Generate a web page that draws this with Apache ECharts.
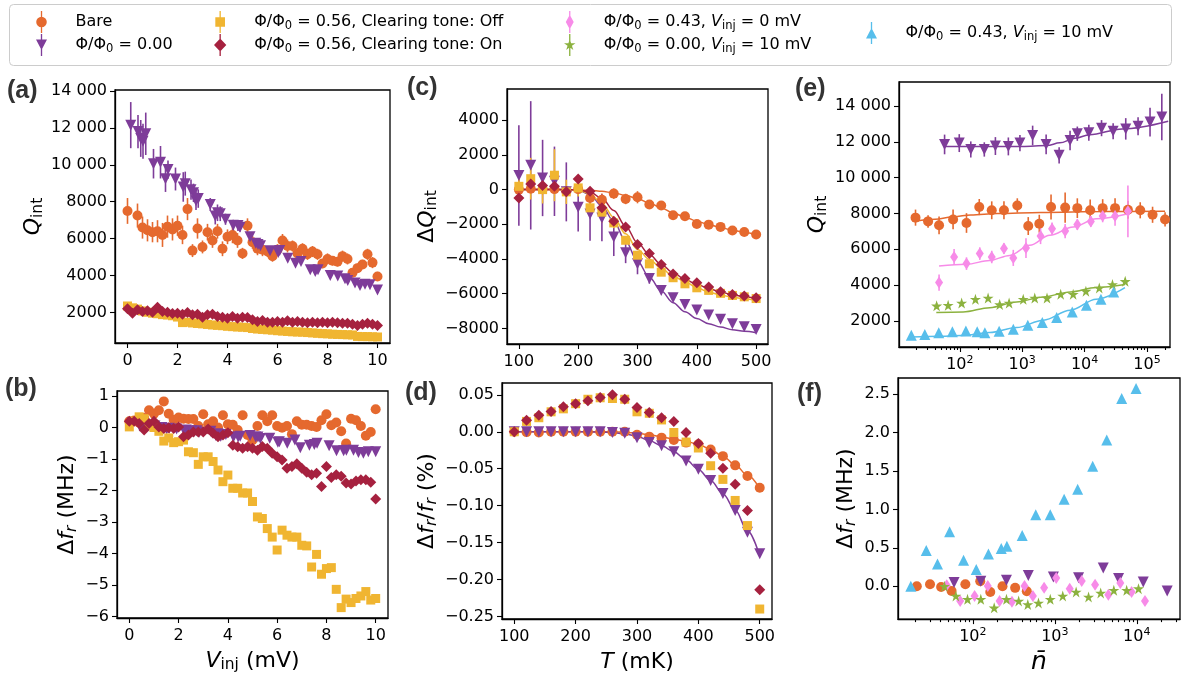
<!DOCTYPE html>
<html><head><meta charset="utf-8">
<script src="https://cdn.jsdelivr.net/npm/echarts@6/dist/echarts.min.js"></script>
<style>html,body{margin:0;padding:0;background:#fff}#c{width:1182px;height:677px}</style>
</head><body><div id="c"></div>
<script>
// ---------------- DATA ----------------
const VINJ = [0,0.2,0.4,0.6,0.8,1,1.2,1.4,1.6,1.8,2,2.2,2.4,2.6,2.8,3,3.2,3.4,3.6,3.8,4,4.2,4.4,4.6,4.8,5,5.2,5.4,5.6,5.8,6,6.2,6.4,6.6,6.8,7,7.2,7.4,7.6,7.8,8,8.2,8.4,8.6,8.8,9,9.2,9.4,9.6,9.8,10];
// (a) Q_int vs V_inj
const qBare = [[0,7500,700],[0.4,7250,650],[0.6,6600,600],[0.8,6450,600],[1.0,6350,550],[1.2,6400,600],[1.4,6200,650],[1.6,6650,600],[1.8,6500,600],[2.0,6700,550],[2.2,6200,500],[2.4,7600,600],[2.6,5350,350],[2.8,6550,550],[3.0,5550,350],[3.2,6350,450],[3.4,5900,400],[3.6,6400,400],[3.8,5450,400],[4.0,6100,400],[4.2,6200,450],[4.4,5900,400],[4.6,5200,300],[4.8,6700,400],[5.0,5800,350],[5.2,5450,350],[5.4,5400,350],[5.6,5300,300],[5.8,5050,300],[6.0,5400,300],[6.2,5900,350],[6.4,5600,350],[6.6,5600,300],[6.8,5200,300],[7.0,5450,300],[7.2,5150,300],[7.4,5300,300],[7.6,5150,300],[7.8,4650,250],[8.0,4900,300],[8.2,4800,250],[8.4,4750,250],[8.6,5050,300],[8.8,4900,300],[9.0,4150,250],[9.2,4400,250],[9.4,4600,250],[9.6,5150,300],[9.8,4700,300],[10.0,3950,250]];
const vPurple = [0.13,0.42,0.53,0.62,0.73,1.04,1.32,1.52,1.62,1.92,2.23,2.31,2.54,2.64,2.74,2.83,3.31,3.51,3.6,3.71,3.92,4.23,4.42,4.5,4.9,5.13,5.22,5.32,5.7,6.03,6.09,6.41,6.72,6.94,7.31,7.51,7.62,8.11,8.41,8.7,8.81,9.1,9.3,9.5,9.7,10.0];
const qPurple = [12150,11800,11430,11280,11680,10060,10140,9250,9740,9230,8800,8980,8650,8480,8050,8170,7850,7220,7400,7350,7050,6720,6710,6620,6100,5750,5680,5620,5340,5250,5350,4940,4670,4760,4310,4220,4310,4000,3980,3820,3730,3590,3460,3530,3500,3220];
const qPurpleErr = [1250,900,1000,950,1150,800,880,720,500,620,800,650,550,500,500,500,350,450,450,400,300,300,300,250,250,200,200,200,200,150,150,150,150,150,150,150,150,150,150,150,150,150,150,150,150,150];
const qOff = [2350,2250,2180,2080,2010,1960,1930,1880,1860,1820,1750,1450,1470,1430,1400,1380,1350,1320,1300,1280,1250,1230,1210,1200,1180,1130,1100,1080,1060,1040,1010,990,970,950,940,930,910,890,870,850,840,820,810,800,790,780,700,690,690,680,670];
const qOn = [2195,1960,2140,2050,2090,2015,2285,2050,2015,1940,1960,1905,2000,1870,1905,1745,1870,1905,1780,1745,1690,1780,1690,1745,1725,1600,1510,1565,1475,1475,1510,1475,1545,1475,1510,1475,1440,1475,1440,1475,1440,1475,1440,1420,1420,1365,1290,1365,1420,1365,1290];
// (b) Δf_r vs V_inj
const bBare = [0.2,0.22,0.15,0.3,0.55,0.44,0.55,0.83,0.44,0.25,0.32,0.28,0.27,0.27,0.05,0.42,0.1,0.2,0.0,0.39,0.1,0.09,-0.08,0.39,-0.24,-0.4,0.05,0.39,0.2,0.39,0.05,-0.01,0.05,-0.21,0.2,0.09,0.09,0.05,0.02,0.23,0.42,0.07,0.16,-0.12,-0.51,0.28,0.23,0.05,-0.26,-0.14,0.58];
const bPurple = [0.15,0.05,0.0,0.02,0.05,0.05,0.0,-0.05,-0.02,-0.05,-0.1,-0.08,-0.1,-0.12,-0.1,-0.15,-0.12,-0.25,-0.2,-0.28,-0.22,-0.3,-0.3,-0.28,-0.25,-0.3,-0.3,-0.35,-0.34,-0.47,-0.45,-0.5,-0.4,-0.64,-0.56,-0.54,-0.5,-0.58,-0.74,-0.74,-0.72,-0.72,-0.79,-0.82,-0.77,-0.77];
const bOff = [0.02,0.2,0.34,0.28,0.07,0.0,-0.12,-0.43,-0.33,-0.48,-0.45,-0.4,-0.77,-0.8,-1.17,-0.93,-0.93,-1.08,-1.35,-1.72,-1.51,-1.93,-1.93,-2.08,-2.08,-2.35,-2.84,-2.89,-3.21,-3.48,-3.89,-3.26,-3.42,-3.48,-3.48,-3.74,-3.76,-4.43,-4.03,-4.66,-4.48,-4.45,-5.14,-5.72,-5.45,-5.56,-5.43,-5.35,-5.21,-5.48,-5.43];
const bOn = [0.2,0.2,0.13,-0.08,0.13,0.2,0.02,-0.03,-0.01,-0.03,0.02,-0.29,-0.24,-0.14,-0.14,-0.14,-0.05,-0.18,-0.29,-0.24,-0.17,-0.56,-0.61,-0.66,-0.61,-0.66,-0.72,-0.6,-0.66,-0.82,-0.93,-1.03,-1.29,-1.24,-1.15,-1.29,-1.42,-1.5,-1.45,-1.87,-1.24,-1.59,-1.5,-1.55,-1.76,-1.79,-1.7,-1.66,-1.66,-1.74,-2.27];
// (c) ΔQ_int vs T, (d) Δf_r/f_r vs T
const TEMP = [100,120,140,160,180,200,220,240,260,280,300,320,340,360,380,400,420,440,460,480,500];
const cBare = [0,50,20,30,-100,30,-480,-580,-230,-540,-440,-860,-920,-1480,-1540,-1980,-2020,-2150,-2360,-2440,-2590];
const cBareErr = [150,150,150,150,150,150,300,350,300,300,350,250,250,150,150,120,120,120,120,120,120];
const cPurple = [810,1400,670,480,-130,-1020,-1400,-1630,-2730,-3640,-4280,-5120,-5810,-6230,-6620,-6940,-7230,-7480,-7730,-7900,-8060];
const cPurpleErr = [2900,3700,2200,2000,1700,1400,1550,1350,1100,600,600,300,150,150,100,100,100,100,100,100,100];
const cOff = [190,630,0,830,-130,100,-1050,-1300,-1920,-2920,-3780,-4280,-4760,-5080,-5430,-5660,-5810,-5980,-6100,-6180,-6280];
const cOffErr = [650,1200,800,1500,700,500,500,600,300,200,150,150,100,100,100,100,100,100,100,100,100];
const cOn = [-480,330,230,190,-130,610,-100,-1050,-1820,-2160,-3160,-3680,-4310,-4860,-5120,-5370,-5620,-5890,-6040,-6140,-6240];
const cOnErr = [200,200,200,200,200,200,150,150,150,150,150,150,100,100,100,100,100,100,100,100,100];
const cFitBare = [0,0,0,0,-10,-20,-40,-100,-190,-330,-520,-770,-1060,-1340,-1590,-1820,-2010,-2190,-2340,-2470,-2600];
const cFitPurple = [0,0,0,0,0,-20,-290,-960,-1820,-2980,-4130,-5050,-5850,-6520,-7040,-7430,-7730,-7920,-8080,-8170,-8250];
const cFitOff = [0,0,0,0,0,-20,-250,-800,-1600,-2550,-3450,-4020,-4540,-4980,-5310,-5650,-5900,-6080,-6200,-6300,-6380];
const cFitOn = [0,0,0,0,0,-10,-150,-500,-1200,-2110,-3070,-3740,-4310,-4790,-5170,-5460,-5700,-5900,-6060,-6170,-6260];
const dBare = [0,-0.0005,-0.001,0,0,0,0,0,0,0,-0.004,-0.0066,-0.008,-0.011,-0.0147,-0.017,-0.024,-0.033,-0.0455,-0.06,-0.0758];
const dPurple = [0,0,0,0,0,0,0,0,-0.001,-0.002,-0.008,-0.0147,-0.019,-0.027,-0.0396,-0.0509,-0.066,-0.0835,-0.1066,-0.136,-0.165];
const dOff = [0,0.014,0.019,0.027,0.031,0.038,0.044,0.046,0.045,0.044,0.027,0.025,0.016,-0.001,-0.014,-0.022,-0.046,-0.0645,-0.093,-0.127,-0.24];
const dOn = [0,0.0156,0.0224,0.0274,0.034,0.038,0.042,0.0464,0.05,0.044,0.033,0.026,0.019,0.0138,-0.001,-0.016,-0.029,-0.0495,-0.071,-0.1066,-0.2138];
const dFitBare = [0,0,0,0,0,0,0,0,0,-0.001,-0.002,-0.004,-0.007,-0.010,-0.013,-0.017,-0.024,-0.033,-0.045,-0.059,-0.077];
const dFitPurple = [0,0,0,0,0,0,0,-0.0005,-0.001,-0.003,-0.006,-0.012,-0.019,-0.027,-0.038,-0.051,-0.066,-0.084,-0.106,-0.134,-0.168];
// (e) Q_int vs n̄  [n, Q, err]
const eBare = [[19.5,7770,450],[31,7560,350],[46.5,7340,500],[78,7670,550],[128,7470,550],[205,8360,450],[325,8180,500],[510,8180,500],[835,8450,400],[1250,7300,500],[1880,7430,500],[2900,8360,700],[4880,8330,850],[7650,8300,550],[12300,8180,600],[19500,8300,500],[30800,8300,550],[49500,8210,500],[78000,8180,450],[123000,7930,450],[195000,7670,400]];
const ePurple = [[57,11860,550],[98,11935,500],[150,11580,450],[247,11580,400],[372,11770,500],[600,11750,500],[920,11935,450],[1470,12360,550],[2420,11860,550],[3910,11250,450],[5850,12080,550],[7650,12460,400],[11700,12510,450],[18700,12770,450],[28700,12600,450],[45700,12730,600],[72000,12880,500],[112000,13110,800],[173000,13390,1300]];
const ePink = [[46.5,4140,450],[81,5570,450],[128,5200,350],[209,5760,350],[325,5570,350],[510,6040,300],[720,5520,450],[1150,6070,550],[1970,6740,450],[3010,7150,350],[4880,7020,400],[7650,7380,300],[12600,7560,300],[19500,7860,350],[30800,7860,550],[49500,8120,1450]];
const eGreen = [[42.5,2840,150],[65,2870,100],[107,3000,100],[178,3210,100],[284,3280,100],[436,2910,150],[617,3000,150],[1040,3210,150],[1590,3280,100],[2500,3280,100],[4140,3490,100],[6560,3490,100],[10500,3660,100],[17200,3840,100],[28000,4030,100],[44800,4210,150]];
const eBlue = [[16.7,1200],[27.5,1240],[46,1330],[76,1390],[125,1440],[190,1390],[252,1330],[427,1420],[720,1530],[1230,1760],[2100,1910],[3570,2190],[6350,2500],[10700,2870],[18300,3210],[29300,3620]];
const eFitBare = [[19.5,7570],[40,7680],[80,7820],[150,7920],[400,8000],[2000,8060],[20000,8110],[195000,8130]];
const eFitPurple = [[57,11750],[1000,11750],[2500,11800],[4000,11950],[7000,12200],[12000,12400],[40000,12730],[219000,13160]];
const eFitPink = [[46.5,5070],[128,5160],[302,5380],[631,5660],[1320,6220],[2770,6780],[6570,7250],[15400,7710],[49500,7990]];
const eFitGreen = [[42,2470],[113,2500],[302,2740],[813,3060],[2190,3340],[5890,3620],[15400,3860],[44400,4030]];
const eFitBlue = [[16.7,1100],[48,1140],[128,1200],[302,1350],[813,1630],[2190,2040],[5890,2600],[15400,3210],[44400,3860]];
// (f) Δf_r vs n̄
const fBare = [[20.7,0.0],[30,0.026],[41,-0.01],[55,-0.06],[81,0.026],[123,0.065],[163,-0.073],[230,0.0],[328,-0.02],[455,-0.065]];
const fPurple = [[59,0.05],[125,0.065],[257,0.078],[475,0.142],[960,0.12],[1950,0.112],[3900,0.237],[6000,0.1],[12000,0.056],[23500,-0.06]];
const fPink = [[48,0.013],[70,-0.19],[105,-0.125],[152,0.004],[212,-0.19],[300,-0.2],[427,0.004],[540,-0.125],[740,-0.017],[1040,0.108],[1520,-0.03],[2130,0.07],[3100,0.02],[4500,-0.108],[6300,0.043],[8650,-0.073],[12600,-0.19]];
const fGreen = [[45,0.0],[62,-0.125],[86,-0.168],[125,-0.168],[182,-0.28],[257,-0.168],[362,-0.19],[468,-0.237],[632,-0.216],[880,-0.168],[1250,-0.125],[1820,-0.073],[2580,-0.138],[3630,-0.086],[5250,-0.052],[7530,-0.052],[10500,-0.03]];
const fBlue = [[17.5,0.0],[27,0.465],[37,0.29],[52,0.71],[77,0.34],[110,0.22],[155,0.42],[222,0.49],[260,0.52],[400,0.66],[585,0.93],[880,0.93],[1300,1.13],[1900,1.26],[2900,1.56],[4300,1.9],[6550,2.44],[9800,2.57]];
// tick values
const TK_V = [0,2,4,6,8,10];
const TK_QA = [2000,4000,6000,8000,10000,12000,14000];
const TK_B = [-6,-5,-4,-3,-2,-1,0,1];
const TK_T = [100,200,300,400,500];
const TK_QC = [-8000,-6000,-4000,-2000,0,2000,4000];
const TK_D = [-0.25,-0.2,-0.15,-0.1,-0.05,0,0.05];
const TK_QE = [2000,4000,6000,8000,10000,12000,14000];
const TK_NE = [100,1000,10000,100000];
const TK_F = [0,0.5,1,1.5,2,2.5];
const TK_NF = [100,1000,10000];
const MINOR_E = [20,30,40,50,60,70,80,90,200,300,400,500,600,700,800,900,2000,3000,4000,5000,6000,7000,8000,9000,20000,30000,40000,50000,60000,70000,80000,90000,200000];
const MINOR_F = [20,30,40,50,60,70,80,90,200,300,400,500,600,700,800,900,2000,3000,4000,5000,6000,7000,8000,9000,20000,30000];

// ---------------- STYLE ----------------
const FONT = 'DejaVu Sans';
const COL = {bare:'#E5692E', p0:'#7E3C99', off:'#F0B531', on:'#A6213F', pink:'#F78BE8', green:'#8CB23F', blue:'#57BEEB'};
const NAME = {bare:'Bare', p0:'Φ/Φ0 = 0.00', off:'Φ/Φ0 = 0.56, Clearing tone: Off', on:'Φ/Φ0 = 0.56, Clearing tone: On',
  pink:'Φ/Φ0 = 0.43, Vinj = 0 mV', green:'Φ/Φ0 = 0.00, Vinj = 10 mV', blue:'Φ/Φ0 = 0.43, Vinj = 10 mV'};
const LEGTXT = {bare:'Bare', p0:'Φ/Φ{s|0} = 0.00', off:'Φ/Φ{s|0} = 0.56, Clearing tone: Off', on:'Φ/Φ{s|0} = 0.56, Clearing tone: On',
  pink:'Φ/Φ{s|0} = 0.43, {i|V}{s|inj} = 0 mV', green:'Φ/Φ{s|0} = 0.00, {i|V}{s|inj} = 10 mV', blue:'Φ/Φ{s|0} = 0.43, {i|V}{s|inj} = 10 mV'};
const STAR = 'path://M0,-1L0.2245,-0.309L0.951,-0.309L0.363,0.118L0.588,0.809L0,0.382L-0.588,0.809L-0.363,0.118L-0.951,-0.309L-0.2245,-0.309Z';
const SYM = {bare:['circle',10,0], p0:['triangle',11,180], off:['rect',9,0], on:['diamond',11,0], pink:['diamond',[8,12],0], green:[STAR,11,0], blue:['triangle',11,0]};
const BAR = 'M4.4 0H5.6V20H4.4Z';
const LICON = {
  bare:'path://'+BAR+'M9.8 10A4.8 4.8 0 1 1 0.2 10A4.8 4.8 0 1 1 9.8 10Z',
  p0:'path://'+BAR+'M0 5H10L5 14.5Z',
  off:'path://'+BAR+'M0.6 5.6H9.4V14.4H0.6Z',
  on:'path://'+BAR+'M5 4L10.6 10L5 16L-0.6 10Z',
  pink:'path://'+BAR+'M5 3.5L8.6 10L5 16.5L1.4 10Z',
  green:'path://'+BAR+'M5 4.5L6.235 8.3L10.23 8.3L7 10.65L8.23 14.45L5 12.1L1.77 14.45L3 10.65L-0.23 8.3L3.765 8.3Z',
  blue:'path://'+BAR+'M5 5.5L10 15H0Z'
};

function fmt(dec, space) {
  return function (v) {
    if (Math.abs(v) < 1e-9) v = 0;
    let s = dec == null ? String(Math.round(v)) : v.toFixed(dec);
    if (space && Math.abs(v) >= 10000) s = s.replace(/(\d)(?=(\d{3})+$)/, '$1 ');
    return s.replace('-', '\u2212');
  };
}
function fmtPow(v) { return '10{sup|' + Math.round(Math.log10(v)) + '}'; }

const NF = 22;
const nameRich = {
  i: {fontFamily: FONT, fontStyle: 'italic', fontSize: NF, lineHeight: 28, color: '#000'},
  s: {fontFamily: FONT, fontSize: 15.5, lineHeight: 19, padding: [9, 0, 0, 0], color: '#000'},
  is: {fontFamily: FONT, fontStyle: 'italic', fontSize: 15.5, lineHeight: 19, padding: [9, 0, 0, 0], color: '#000'},
  n: {fontFamily: FONT, fontStyle: 'italic', fontSize: 25, lineHeight: 28, color: '#000'}
};
function axis(o) {
  const a = {
    type: o.type || 'value', gridIndex: o.g, min: o.min, max: o.max, position: o.pos,
    axisLine: {show: o.line !== false, onZero: false, lineStyle: {color: '#000', width: 1.3}},
    axisTick: {show: true, inside: false, length: o.tlen || 5, lineStyle: {color: '#000', width: 1.1}, customValues: o.ticks},
    axisLabel: {show: o.label !== false, color: '#000', fontFamily: FONT, fontSize: 16, margin: 8, customValues: o.ticks,
      formatter: o.fmt, rich: o.rich, lineHeight: 20},
    splitLine: {show: false}, minorTick: {show: false},
    name: o.name || '', nameLocation: 'middle', nameGap: o.gap || 0, nameRotate: o.rot || 0,
    nameTextStyle: {fontFamily: FONT, fontSize: NF, color: '#000', lineHeight: 28, rich: nameRich},
    silent: true
  };
  if (a.type === 'value') { a.splitNumber = o.split || 5; a.minInterval = o.step; a.maxInterval = o.step; }
  else { a.logBase = 10; }
  return a;
}
const supRich = {sup: {fontFamily: FONT, fontSize: 11, lineHeight: 12, padding: [0, 0, 9, 0], color: '#000'}};

const grids = [
  {left: 115, top: 90, width: 275, height: 253},
  {left: 117, top: 391, width: 271, height: 227},
  {left: 507, top: 89, width: 261, height: 255},
  {left: 502, top: 383, width: 270, height: 236},
  {left: 899, top: 82, width: 271, height: 265},
  {left: 898, top: 378, width: 282, height: 243}
].map(g => Object.assign({show: true, borderColor: '#000', borderWidth: 1.3, backgroundColor: 'transparent', containLabel: false}, g));

const xAxes = [
  axis({g: 0, min: -0.5, max: 10.5, ticks: TK_V, step: 2, fmt: fmt(null)}),
  axis({g: 1, min: -0.5, max: 10.5, ticks: TK_V, step: 2, fmt: fmt(null), name: '{i|V}{s|inj} (mV)', gap: 26}),
  axis({g: 2, min: 80, max: 520, ticks: TK_T, step: 100, fmt: fmt(null)}),
  axis({g: 3, min: 80, max: 520, ticks: TK_T, step: 100, fmt: fmt(null), name: '{i|T} (mK)', gap: 23}),
  axis({g: 4, type: 'log', min: 10.6, max: 234000, ticks: TK_NE, fmt: fmtPow, rich: supRich}),
  axis({g: 5, type: 'log', min: 12.2, max: 33700, ticks: TK_NF, fmt: fmtPow, rich: supRich, name: '{n|n\u0304}', gap: 20}),
  axis({g: 4, type: 'log', min: 10.6, max: 234000, ticks: MINOR_E, pos: 'bottom', line: false, label: false, tlen: 3}),
  axis({g: 5, type: 'log', min: 12.2, max: 33700, ticks: MINOR_F, pos: 'bottom', line: false, label: false, tlen: 3})
];
xAxes[4].position = 'bottom'; xAxes[5].position = 'bottom';
const yAxes = [
  axis({g: 0, min: 344, max: 14054, ticks: TK_QA, step: 2000, split: 7, fmt: fmt(null, true), name: '{i|Q}{s|int}', rot: 90, gap: 66}),
  axis({g: 1, min: -6.05, max: 1.16, ticks: TK_B, step: 1, split: 7, fmt: fmt(null), name: 'Δ{i|f}{is|r} (MHz)', rot: 90, gap: 34}),
  axis({g: 2, min: -8900, max: 5800, ticks: TK_QC, step: 2000, split: 7, fmt: fmt(null), name: 'Δ{i|Q}{s|int}', rot: 90, gap: 61}),
  axis({g: 3, min: -0.2535, max: 0.066, ticks: TK_D, step: 0.05, split: 6, fmt: fmt(2), name: 'Δ{i|f}{is|r}/{i|f}{is|r} (%)', rot: 90, gap: 56}),
  axis({g: 4, min: 540, max: 15350, ticks: TK_QE, step: 2000, split: 7, fmt: fmt(null, true), name: '{i|Q}{s|int}', rot: 90, gap: 63}),
  axis({g: 5, min: -0.426, max: 2.707, ticks: TK_F, step: 0.5, split: 6, fmt: fmt(1), name: 'Δ{i|f}{is|r} (MHz)', rot: 90, gap: 37})
];

// ---------------- SERIES ----------------
const S = [], EB = [], FT = [];
function sc(key, gi, data) {
  const s = SYM[key];
  S.push({type: 'scatter', name: NAME[key], xAxisIndex: gi, yAxisIndex: gi, data: data, symbol: s[0], symbolSize: s[1], symbolRotate: s[2],
    itemStyle: {color: COL[key], opacity: 1}, z: 3, silent: true, animation: false});
}
function eb(key, gi, data) {
  EB.push({type: 'custom', name: NAME[key], xAxisIndex: gi, yAxisIndex: gi, data: data, z: 2, silent: true, animation: false,
    encode: {x: 0, y: 1}, itemStyle: {color: COL[key]}, clip: true,
    renderItem: function (p, api) {
      const x = api.value(0), y = api.value(1), e = api.value(2);
      const a = api.coord([x, y - e]), b = api.coord([x, y + e]);
      return {type: 'line', shape: {x1: a[0], y1: a[1], x2: b[0], y2: b[1]}, style: {stroke: COL[key], lineWidth: 1.6}};
    }});
}
function ft(key, gi, data) {
  FT.push({type: 'line', name: NAME[key], xAxisIndex: gi, yAxisIndex: gi, data: data, showSymbol: false, symbol: 'none',
    smooth: 0.35, smoothMonotone: 'x', lineStyle: {color: COL[key], width: 1.5}, itemStyle: {color: COL[key]}, z: 2, silent: true, animation: false});
}
const zip = (xs, ys) => xs.map((x, i) => [x, ys[i]]);
const zip3 = (xs, ys, es) => xs.map((x, i) => [x, ys[i], es[i]]);

// (a)
sc('bare', 0, qBare.map(d => [d[0], d[1]])); eb('bare', 0, qBare);
sc('p0', 0, zip(vPurple, qPurple)); eb('p0', 0, zip3(vPurple, qPurple, qPurpleErr));
sc('off', 0, zip(VINJ, qOff));
sc('on', 0, zip(VINJ, qOn));
// (b)
sc('bare', 1, zip(VINJ, bBare));
sc('p0', 1, zip(vPurple, bPurple));
sc('off', 1, zip(VINJ, bOff));
sc('on', 1, zip(VINJ, bOn));
// (c)
sc('bare', 2, zip(TEMP, cBare)); eb('bare', 2, zip3(TEMP, cBare, cBareErr)); ft('bare', 2, zip(TEMP, cFitBare));
sc('p0', 2, zip(TEMP, cPurple)); eb('p0', 2, zip3(TEMP, cPurple, cPurpleErr)); ft('p0', 2, zip(TEMP, cFitPurple));
sc('off', 2, zip(TEMP, cOff)); eb('off', 2, zip3(TEMP, cOff, cOffErr)); ft('off', 2, zip(TEMP, cFitOff));
sc('on', 2, zip(TEMP, cOn)); eb('on', 2, zip3(TEMP, cOn, cOnErr)); ft('on', 2, zip(TEMP, cFitOn));
// (d)
sc('bare', 3, zip(TEMP, dBare)); ft('bare', 3, zip(TEMP, dFitBare));
sc('p0', 3, zip(TEMP, dPurple)); ft('p0', 3, zip(TEMP, dFitPurple));
sc('off', 3, zip(TEMP, dOff));
sc('on', 3, zip(TEMP, dOn));
// (e)
sc('bare', 4, eBare.map(d => [d[0], d[1]])); eb('bare', 4, eBare); ft('bare', 4, eFitBare);
sc('p0', 4, ePurple.map(d => [d[0], d[1]])); eb('p0', 4, ePurple); ft('p0', 4, eFitPurple);
sc('pink', 4, ePink.map(d => [d[0], d[1]])); eb('pink', 4, ePink); ft('pink', 4, eFitPink);
sc('green', 4, eGreen.map(d => [d[0], d[1]])); eb('green', 4, eGreen); ft('green', 4, eFitGreen);
sc('blue', 4, eBlue); ft('blue', 4, eFitBlue);
// (f)
sc('bare', 5, fBare);
sc('p0', 5, fPurple);
sc('pink', 5, fPink);
sc('green', 5, fGreen);
sc('blue', 5, fBlue);

// ---------------- LEGEND ----------------
const legRich = {
  i: {fontFamily: FONT, fontStyle: 'italic', fontSize: 16, lineHeight: 22, color: '#000'},
  s: {fontFamily: FONT, fontSize: 11.5, lineHeight: 14, padding: [8, 0, 0, 0], color: '#000'}
};
const byName = {}; Object.keys(NAME).forEach(k => byName[NAME[k]] = k);
function leg(keys, left, top) {
  return {left: left, top: top, orient: 'vertical', itemWidth: 58, itemHeight: 22, itemGap: 1, symbolKeepAspect: true,
    selectedMode: false, padding: 0,
    data: keys.map(k => ({name: NAME[k], icon: LICON[k], itemStyle: {color: COL[k], opacity: 1}})),
    formatter: n => LEGTXT[byName[n]],
    textStyle: {fontFamily: FONT, fontSize: 16, color: '#000', lineHeight: 22, rich: legRich}};
}

const panelLabel = (t, x, y) => ({type: 'text', left: x, top: y, silent: true,
  style: {text: t, font: 'bold 25px "Liberation Sans"', fill: '#333'}});

const option = {
  animation: false,
  textStyle: {fontFamily: FONT},
  grid: grids,
  xAxis: xAxes,
  yAxis: yAxes,
  legend: [leg(['bare', 'p0'], 36, 11), leg(['off', 'on'], 214, 11), leg(['pink', 'green'], 564, 11), leg(['blue'], 866, 22)],
  graphic: [
    {type: 'rect', z: -1, silent: true, shape: {x: 9.5, y: 4.5, width: 1162, height: 61, r: 4}, style: {fill: '#fff', stroke: '#cccccc', lineWidth: 1}},
    panelLabel('(a)', 7, 79), panelLabel('(b)', 5, 377), panelLabel('(c)', 407, 76),
    panelLabel('(d)', 405, 381), panelLabel('(e)', 795, 77), panelLabel('(f)', 797, 382)
  ],
  series: S.concat(EB, FT)
};
const chart = echarts.init(document.getElementById('c'), null, {renderer: 'canvas'});
chart.setOption(option);
</script></body></html>
